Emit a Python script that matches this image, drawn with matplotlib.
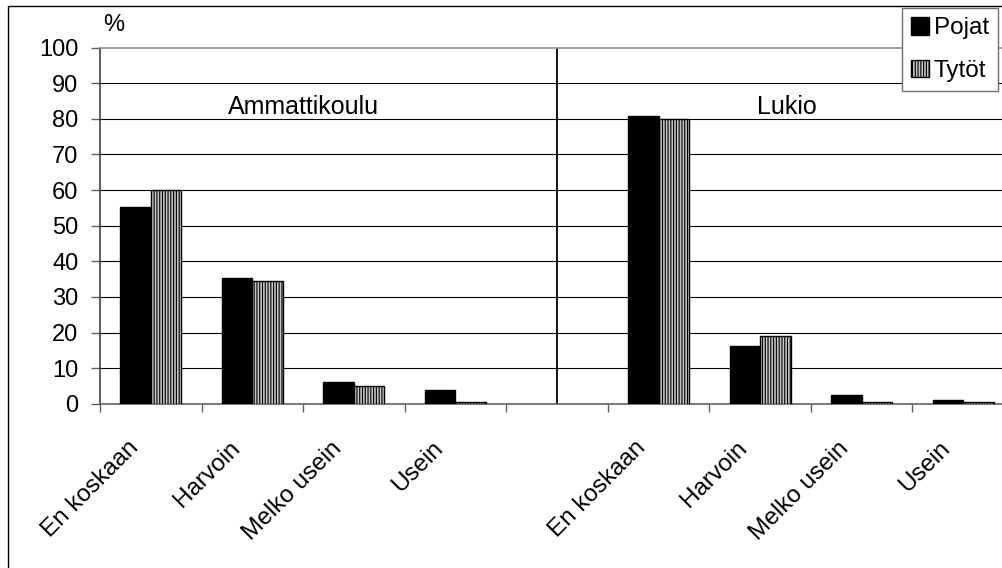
import numpy as np
import matplotlib
matplotlib.use("Agg")
import matplotlib.pyplot as plt
import matplotlib.transforms as mtransforms

# ── Style ─────────────────────────────────────────────────────────────────────
plt.rcParams.update({
    "font.family": ["Liberation Sans", "DejaVu Sans"],
    "font.size": 17.5,
    "hatch.linewidth": 0.8,
    "hatch.color": "#202020",
})

# ── Data ──────────────────────────────────────────────────────────────────────
categories = ["En koskaan", "Harvoin", "Melko usein", "Usein"]
groups = ["Ammattikoulu", "Lukio"]
series = ["Pojat", "Tytöt"]
pojat_amm = [55.3, 35.2, 6.2, 3.9]
tytot_amm = [60.0, 34.6, 5.1, 0.6]
pojat_luk = [80.7, 16.2, 2.4, 1.1]
tytot_luk = [80.0, 18.9, 0.6, 0.6]
yticks = list(range(0, 101, 10))

# two blocks of categories with one empty slot between them
n = len(categories)
x_amm = np.arange(n)
x_luk = np.arange(n) + n + 1
x_all = np.concatenate([x_amm, x_luk])
labels_all = categories + categories
sep_x = n

W, H = 1002, 568
fig = plt.figure(figsize=(W / 100, H / 100), dpi=100)
fig.patch.set_facecolor("white")

ax = fig.add_axes([100 / W, 1 - 403.7 / H, 914 / W, 356 / H])
ax.set_xlim(-0.5, 2 * n + 0.5)
ax.set_ylim(0, 100)

w = 0.3
b_p = ax.bar(x_all - w / 2, pojat_amm + pojat_luk, w, color="black",
             edgecolor="black", linewidth=1.0, label=series[0], zorder=3)
b_t = ax.bar(x_all + w / 2, tytot_amm + tytot_luk, w, color="#c4c4c4",
             edgecolor="black", linewidth=1.0, hatch="||||||",
             label=series[1], zorder=3)

# gridlines and group separator
for y in yticks[1:-1]:
    ax.axhline(y, color="black", lw=0.8, zorder=1)
ax.axvline(sep_x, color="black", lw=1.3, zorder=2)

# axes & ticks
ax.set_yticks(yticks)
ax.set_xticks(np.arange(-0.5, 2 * n + 1, 1))
ax.set_xticklabels([])
ax.tick_params(axis="y", direction="out", length=6.5, width=1, color="#606060",
               pad=9, labelsize=17)
ax.tick_params(axis="x", direction="out", length=6, width=1, color="#606060")
ax.spines["left"].set_color("#404040")
ax.spines["bottom"].set_color("#606060")
ax.spines["top"].set_color("#909090")
ax.spines["right"].set_color("#909090")
for s in ax.spines.values():
    s.set_linewidth(1.2)

# rotated category labels
lab_tr = mtransforms.offset_copy(ax.get_xaxis_transform(), fig=fig,
                                 x=-16, y=-41, units="dots")
for xi, lab in zip(x_all, labels_all):
    ax.text(xi, 0, lab, transform=lab_tr, rotation=45, rotation_mode="anchor",
            ha="right", va="center", fontsize=17.5)

# group titles
ax.text(1.5, 83.3, groups[0], ha="center", va="center", fontsize=18)
ax.text(6.26, 83.3, groups[1], ha="center", va="center", fontsize=18)

fig.text(114 / W, 1 - 25 / H, "%", ha="center", va="center", fontsize=17)

leg = fig.legend(handles=[b_p, b_t], labels=series, loc="upper right",
                 bbox_to_anchor=(998 / W, 1 - 8 / H), borderaxespad=0,
                 fancybox=False, edgecolor="#707070", framealpha=1,
                 handlelength=0.72, handleheight=0.72, handletextpad=0.2,
                 labelspacing=0.85, borderpad=0.38, fontsize=17.5)
leg.get_frame().set_linewidth(1.0)

# outer chart border
fig.add_artist(plt.Rectangle((8 / W, -0.1), 1.1, 1 - 6 / H + 0.1,
                             transform=fig.transFigure, fill=False,
                             edgecolor="black", lw=1.0))

fig.savefig("out.png", dpi=100, facecolor="white")
